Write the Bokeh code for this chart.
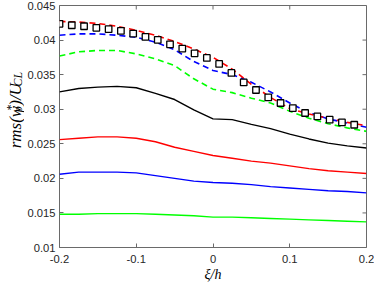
import math
from bokeh.plotting import figure
from bokeh.layouts import row
from bokeh.models import Range1d, FixedTicker
from bokeh.core.properties import value
from bokeh.embed import file_html
from bokeh.resources import INLINE

# ---------------- data ----------------
xi = [-0.2, -0.175, -0.15, -0.125, -0.1, -0.075, -0.05, -0.025, 0.0,
      0.025, 0.05, 0.075, 0.1, 0.125, 0.15, 0.175, 0.2]

red_dashed = [0.0427, 0.0426, 0.0424, 0.0420, 0.0414, 0.0407, 0.0398, 0.0387, 0.0375,
              0.0358, 0.0336, 0.0317, 0.0301, 0.0293, 0.0287, 0.0281, 0.0276]
blue_dashed = [0.0407, 0.0409, 0.0409, 0.0407, 0.0404, 0.0397, 0.0386, 0.0369, 0.0356,
               0.0350, 0.0339, 0.0325, 0.0309, 0.0295, 0.0286, 0.0280, 0.0274]
green_dashed = [0.0377, 0.0383, 0.0385, 0.0385, 0.0380, 0.0373, 0.0363, 0.0344, 0.0329,
                0.0324, 0.0316, 0.0309, 0.0297, 0.0287, 0.0279, 0.0273, 0.0268]
black_solid = [0.0325, 0.0330, 0.0332, 0.0333, 0.0331, 0.0323, 0.0314, 0.0299, 0.0286,
               0.0285, 0.0278, 0.0272, 0.0264, 0.0257, 0.0251, 0.0247, 0.0244]
red_solid = [0.0256, 0.0258, 0.0260, 0.0260, 0.0258, 0.0253, 0.0245, 0.0239, 0.0233,
             0.0229, 0.0225, 0.0222, 0.0218, 0.0214, 0.0211, 0.0209, 0.0207]
blue_solid = [0.0206, 0.0209, 0.0209, 0.0209, 0.0208, 0.0204, 0.0200, 0.0196, 0.0194,
              0.0193, 0.0191, 0.0188, 0.0186, 0.0184, 0.0182, 0.0181, 0.0179]
green_solid = [0.0148, 0.0148, 0.0149, 0.0149, 0.0149, 0.0148, 0.0147, 0.0146, 0.0144,
               0.0144, 0.0143, 0.0142, 0.0141, 0.0140, 0.0139, 0.0138, 0.0137]

xi_squares = [-0.2, -0.184, -0.168, -0.152, -0.136, -0.12, -0.104, -0.088, -0.072,
              -0.056, -0.04, -0.024, -0.008, 0.008, 0.024, 0.04, 0.056, 0.072,
              0.088, 0.104, 0.12, 0.136, 0.152, 0.168, 0.184]
squares = [0.04235, 0.04214, 0.04200, 0.04177, 0.04157, 0.04133, 0.04094, 0.04046,
           0.04003, 0.03939, 0.03877, 0.03809, 0.03742, 0.03655, 0.03525, 0.03388,
           0.03278, 0.03171, 0.03090, 0.03017, 0.02945, 0.02896, 0.02848, 0.02809,
           0.02775]

x_ticks = [-0.2, -0.1, 0.0, 0.1, 0.2]
x_tick_labels = ["-0.2", "-0.1", "0", "0.1", "0.2"]
y_ticks = [0.01, 0.015, 0.02, 0.025, 0.03, 0.035, 0.04, 0.045]
y_tick_labels = ["0.01", "0.015", "0.02", "0.025", "0.03", "0.035", "0.04", "0.045"]

x_label = "ξ/h"
# y label "rms(w_p^*)/U_CL" split into normal / subscript / superscript runs
y_label_runs = ["rms(w", "p", "*", ")/U", "CL"]
y_label_kinds = ["main", "sub", "sup", "main", "sub"]

# ---------------- main figure ----------------
W_LABEL, W_MAIN, H = 24, 350, 284
axis_gray = "#6a6a6a"
tick_text = "#262626"

p = figure(width=W_MAIN, height=H, output_backend="svg", toolbar_location=None,
           x_range=Range1d(x_ticks[0], x_ticks[-1]),
           y_range=Range1d(y_ticks[0], y_ticks[-1]),
           min_border_left=32, min_border_right=8, min_border_top=5,
           min_border_bottom=37)
p.outline_line_color = axis_gray
p.outline_line_width = 1
p.xgrid.visible = False
p.ygrid.visible = False

for ax in (p.xaxis[0], p.yaxis[0]):
    ax.axis_line_color = None
    ax.major_tick_in = 4
    ax.major_tick_out = 0
    ax.minor_tick_line_color = None
    ax.major_tick_line_color = axis_gray
    ax.major_label_text_font = "Liberation Sans"
    ax.major_label_text_font_size = "11.2px"
    ax.major_label_text_color = tick_text

p.xaxis.ticker = FixedTicker(ticks=x_ticks)
p.xaxis.major_label_overrides = dict(zip(x_ticks, x_tick_labels))
p.yaxis.ticker = FixedTicker(ticks=y_ticks)
p.yaxis.major_label_overrides = dict(zip(y_ticks, y_tick_labels))
p.xaxis.major_label_standoff = 7
p.yaxis.major_label_standoff = 4

p.xaxis.axis_label = x_label
p.xaxis.axis_label_text_font = "Liberation Serif"
p.xaxis.axis_label_text_font_style = "italic"
p.xaxis.axis_label_text_font_size = "14px"
p.xaxis.axis_label_text_color = "black"
p.xaxis.axis_label_standoff = 1

# inward ticks on the top and right edges of the box
p.ray(x=x_ticks, y=[y_ticks[-1]] * len(x_ticks), length=4, length_units="screen",
      angle=-math.pi / 2, line_color=axis_gray, line_width=1)
p.ray(x=[x_ticks[-1]] * len(y_ticks), y=y_ticks, length=4, length_units="screen",
      angle=math.pi, line_color=axis_gray, line_width=1)

# ---------------- series ----------------
p.line(xi, green_solid, line_color="#00ff00", line_width=1.4)
p.line(xi, blue_solid, line_color="#0000ff", line_width=1.4)
p.line(xi, red_solid, line_color="#ff0000", line_width=1.4)
p.line(xi, black_solid, line_color="black", line_width=1.4)
p.line(xi, green_dashed, line_color="#00ff00", line_width=1.6, line_dash="6 4")
p.line(xi, blue_dashed, line_color="#0000ff", line_width=1.6, line_dash="6 4")
p.line(xi, red_dashed, line_color="#ff0000", line_width=1.6, line_dash="6 4")
p.scatter(xi_squares, squares, marker="square", size=6.5, line_color="black",
          fill_color="white", line_width=1.3)

# ---------------- y label panel ----------------
lp = figure(width=W_LABEL, height=H, output_backend="svg", toolbar_location=None,
            x_range=Range1d(0, W_LABEL), y_range=Range1d(0, H),
            min_border=0, min_border_left=0, min_border_right=0,
            min_border_top=0, min_border_bottom=0)
lp.axis.visible = False
lp.grid.visible = False
lp.outline_line_color = None

main_px, small_px = 17, 12
# advance widths (em) of Times-italic glyphs, used to chain the runs
em = {"r": .389, "m": .722, "s": .389, "(": .333, "w": .667, ")": .333,
      "/": .278, "U": .722, "C": .667, "L": .556, "p": .5, "*": .5}
base_x = 14.5
center_y = H - 124.0
run_len = []
for txt, kind in zip(y_label_runs, y_label_kinds):
    size = main_px if kind == "main" else small_px
    run_len.append(sum(em[c] for c in txt) * size)
total = run_len[0] + max(run_len[1], run_len[2]) + 1.5 + run_len[3] + run_len[4]
starts = []
pos = center_y - total / 2
starts.append(pos)                       # rms(w
pos += run_len[0]
starts.append(pos)                       # p (sub)
starts.append(pos + 1.5)                 # * (sup)
pos += max(run_len[1], run_len[2]) + 1.5
starts.append(pos)                       # )/U
pos += run_len[3]
starts.append(pos)                       # CL (sub)

for txt, kind, s in zip(y_label_runs, y_label_kinds, starts):
    size = main_px if kind == "main" else small_px
    dx = {"main": 0.0, "sub": 3.0, "sup": -4.0}[kind]
    lp.text(x=[base_x + dx], y=[s], text=[txt], angle=math.pi / 2,
            text_align="left", text_baseline="alphabetic",
            text_font=value("Liberation Serif"), text_font_style="italic",
            text_font_size=f"{size}px", text_color="black")

layout = row(lp, p, spacing=0)
open("out.html", "w").write(file_html(layout, INLINE))
